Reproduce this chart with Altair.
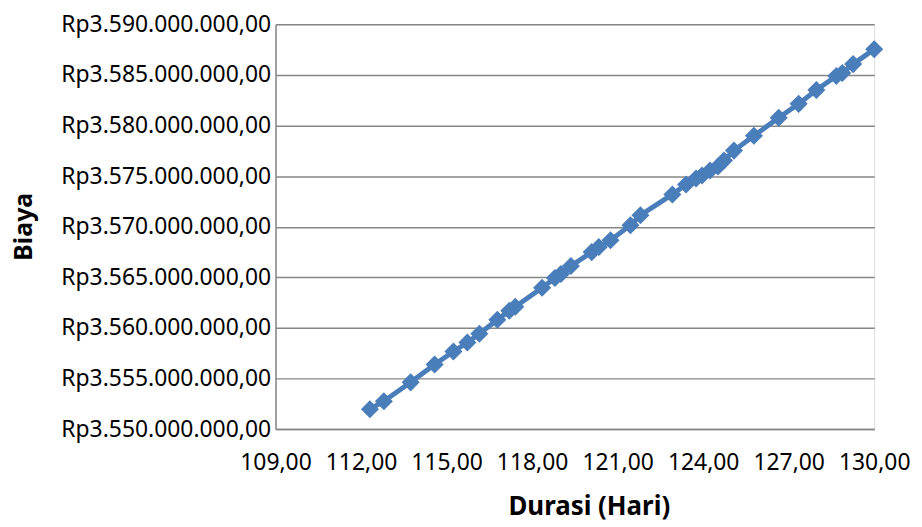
import altair as alt
import pandas as pd

durasi = [112.31, 112.80, 113.74, 114.58, 115.24, 115.73, 116.15, 116.78, 117.20, 117.41,
          118.35, 118.80, 119.01, 119.36, 120.09, 120.34, 120.75, 121.45, 121.80, 122.92,
          123.40, 123.75, 123.96, 124.24, 124.52, 124.73, 125.08, 125.78, 126.65, 127.35,
          127.97, 128.67, 128.88, 129.26, 130.00]
biaya_juta = [3551.97, 3552.75, 3554.62, 3556.39, 3557.67, 3558.55, 3559.43, 3560.81, 3561.70, 3562.09,
              3563.96, 3564.94, 3565.33, 3566.12, 3567.49, 3567.99, 3568.67, 3570.15, 3571.13, 3573.19,
              3574.18, 3574.77, 3575.06, 3575.55, 3575.95, 3576.54, 3577.52, 3578.99, 3580.76, 3582.14,
              3583.51, 3584.89, 3585.19, 3586.07, 3587.54]
x_ticks = [109, 112, 115, 118, 121, 124, 127, 130]
y_ticks = [3550000000, 3555000000, 3560000000, 3565000000, 3570000000,
           3575000000, 3580000000, 3585000000, 3590000000]

df = pd.DataFrame({"durasi": durasi, "biaya": [v * 1e6 for v in biaya_juta]})

blue = "#4A7EBB"
font = "Noto Sans"

x = alt.X("durasi:Q",
          scale=alt.Scale(domain=[109, 130], nice=False, zero=False),
          axis=alt.Axis(values=x_ticks, title="Durasi (Hari)", grid=False,
                        labelExpr="replace(format(datum.value, '.2f'), '.', ',')",
                        labelFontSize=23, labelFont=font, labelColor="#000",
                        titleFontSize=26, titleFont=font, titleFontWeight="bold", titleColor="#000",
                        titleX=315, titleY=78, titleBaseline="middle", titleAlign="center",
                        labelPadding=23, ticks=False, labelLimit=300,
                        domainColor="#868686", domainWidth=1.5, labelFlush=False))
y = alt.Y("biaya:Q",
          scale=alt.Scale(domain=[3550000000, 3590000000], nice=False, zero=False),
          axis=alt.Axis(values=y_ticks, title="Biaya",
                        labelExpr="'Rp' + replace(replace(replace(format(datum.value, ',.2f'), regexp(',', 'g'), '#'), '.', ','), regexp('#', 'g'), '.')",
                        labelFontSize=23, labelFont=font, labelColor="#000", labelLimit=400,
                        titleFontSize=25, titleFont=font, titleFontWeight="bold", titleColor="#000",
                        titleX=-253, titleY=203, titleBaseline="middle", titleAlign="center",
                        labelPadding=5, ticks=False,
                        gridColor="#868686", gridWidth=1.5,
                        domainColor="#868686", domainWidth=1.5))

line = alt.Chart(df).mark_line(color=blue, strokeWidth=5).encode(x=x, y=y)
pts = alt.Chart(df).mark_point(shape="diamond", filled=True, size=330, color=blue, opacity=1).encode(x=x, y=y)

chart = (line + pts).properties(
    width=602, height=407,
    autosize=alt.AutoSizeParams(type="none"),
    padding={"left": 269, "top": 15, "right": 40, "bottom": 92},
).configure_view(stroke=None).configure(background="white")

chart.save("out.html", embed_options={"renderer": "svg", "actions": False})
